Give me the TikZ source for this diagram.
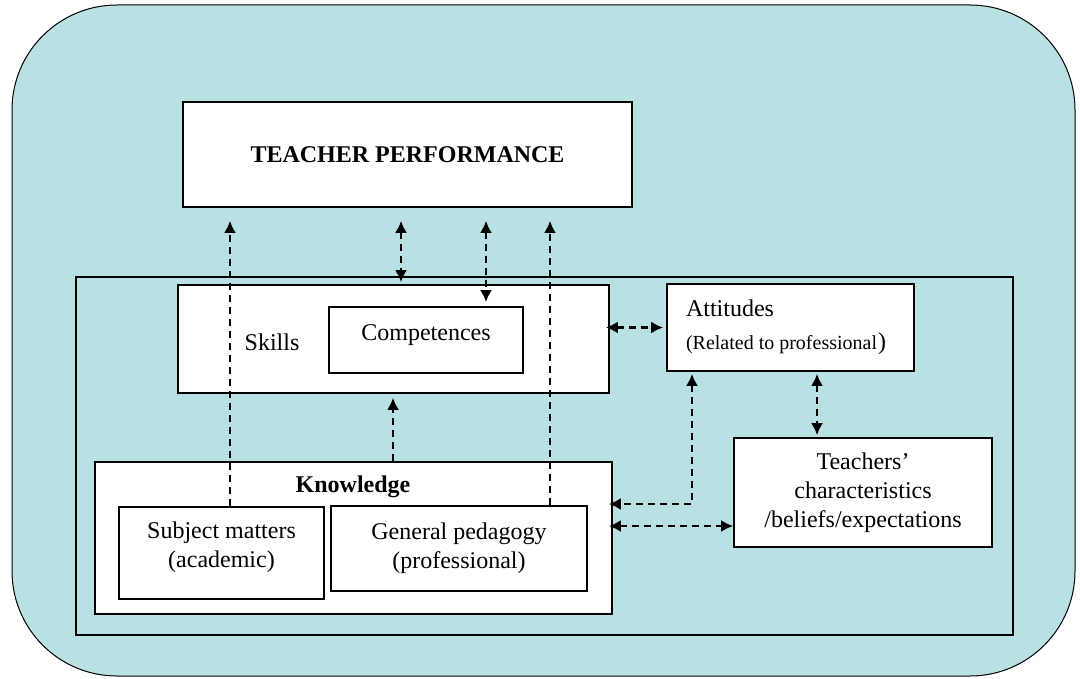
\documentclass[tikz,border=0pt]{standalone}
\usepackage{fontspec}
\setmainfont{Liberation Serif}
\usetikzlibrary{arrows.meta,calc}
\definecolor{panel}{HTML}{B9E0E3}
\tikzset{
  box/.style={draw,fill=white,line width=.8pt,inner sep=2pt,align=center,font=\fontsize{12}{14.5}\selectfont},
  lbl/.style={font=\fontsize{12}{14.5}\selectfont},
  dar/.style={line width=1.2pt,dash pattern=on 3.5pt off 2.5pt,-{Latex[length=6pt,width=6pt]}},
  ddar/.style={dar,{Latex[length=6pt,width=6pt]}-{Latex[length=6pt,width=6pt]}},
}
\begin{document}
\begin{tikzpicture}[x=.5pt,y=-.5pt]
\useasboundingbox (0,0) rectangle (1080,679);
\draw[fill=panel,line width=.5pt,rounded corners=52.5pt] (12,5) rectangle (1075,676);
\draw[line width=1.3pt] (76,277) rectangle (1013,635);
% boxes
\node[box,minimum width=224.5pt,minimum height=52.5pt,font=\fontsize{12}{14.5}\selectfont\bfseries] (tp) at (407.5,154.5) {TEACHER PERFORMANCE};
\node[box,minimum width=215.5pt,minimum height=54pt] (skills) at (393.5,339) {};
\node[lbl] (skillslbl) at (272,342) {Skills};
\node[box,minimum width=97pt,minimum height=33pt,text height=9pt,text depth=9pt] (comp) at (426,340) {Competences};
\node[box,minimum height=43.5pt,align=flush left,text width=104.5pt,inner xsep=9.5pt] (att) at (790.5,327.5) {Attitudes\\[2pt]{\fontsize{10}{11}\selectfont(Related to professional}\kern.5pt)};
\node[box,minimum width=129pt,minimum height=54.5pt] (teach) at (863,492.5) {Teachers’\\characteristics\\/beliefs/expectations};
\node[box,minimum width=258.5pt,minimum height=76pt] (know) at (353.5,538) {};
\node[lbl,font=\fontsize{12}{14.5}\selectfont\bfseries] (knowlbl) at (353,487) {Knowledge};
\node[box,minimum width=102.5pt,minimum height=46pt,text depth=8pt] (sub) at (221.5,553) {Subject matters\\(academic)};
\node[box,minimum width=128pt,minimum height=42.5pt] (ped) at (459,548.5) {General pedagogy\\(professional)};
% arrow ends
\coordinate (a1) at ([xshift=4.25pt]sub.north);
\coordinate (a2) at ([xshift=45.5pt]ped.north);
\coordinate (a3) at ([xshift=-3.25pt]tp.south);
\coordinate (a4) at ([xshift=39.25pt]tp.south);
\coordinate (a5) at ([xshift=19.75pt]know.north);
\coordinate (a6) at ([xshift=-49.25pt]att.south);
\coordinate (a7) at ([yshift=17pt]know.east);
\coordinate (a8) at ([xshift=13.25pt]att.south);
\coordinate (a9) at ([yshift=6pt]know.east);
% arrows
\draw[dar,shorten >=6.5pt] (a1) -- (a1 |- tp.south);
\draw[dar,shorten >=6.5pt] (a2) -- (a2 |- tp.south);
\draw[ddar,shorten <=6.5pt,shorten >=1pt] (a3) -- (a3 |- skills.north);
\draw[ddar,shorten <=6.5pt,shorten >=2pt] (a4) -- (a4 |- comp.north);
\draw[dar,shorten >=2pt] (a5) -- (a5 |- skills.south);
\draw[ddar,shorten <=-2pt,shorten >=1.5pt] (att.west -| skills.east) -- (att.west);
\draw[ddar,shorten <=1pt,shorten >=-2pt] (a6) |- (a7);
\draw[ddar,shorten <=1pt,shorten >=1pt] (a8) -- (a8 |- teach.north);
\draw[ddar,shorten <=-2pt] (a9) -- (a9 -| teach.west);
\end{tikzpicture}
\end{document}
